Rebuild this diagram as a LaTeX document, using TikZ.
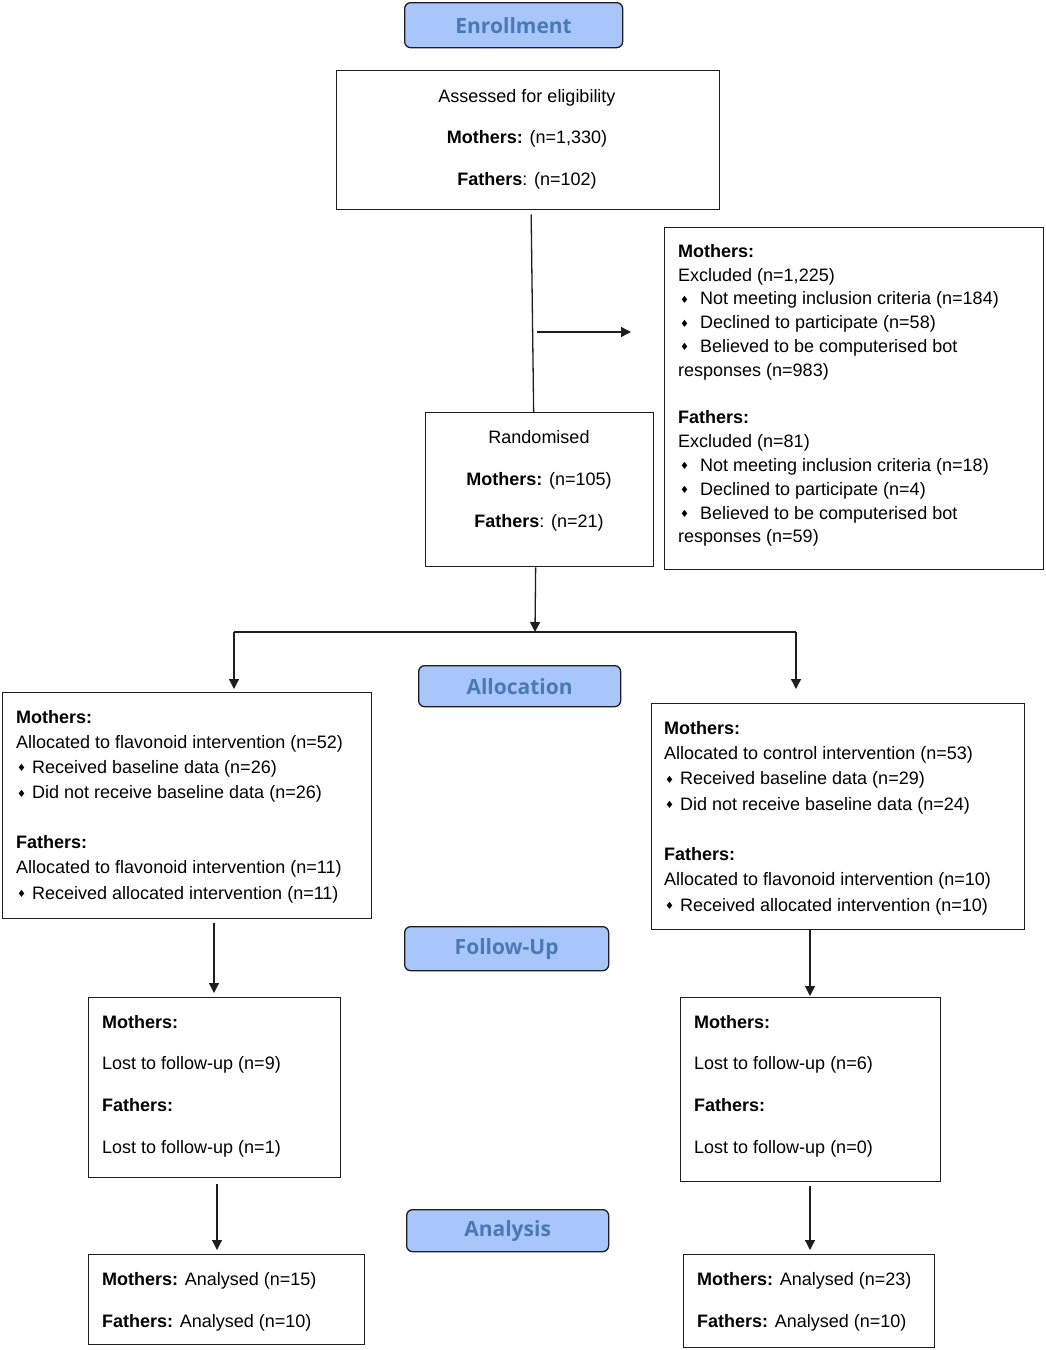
\documentclass[tikz,border=0pt]{standalone}
\usepackage{fontspec}
\setmainfont{Liberation Sans}
\newfontfamily\hdrfont{Open Sans}
\newfontfamily\dejavu{DejaVu Sans}
\usetikzlibrary{arrows.meta}
\definecolor{hdrfill}{RGB}{168,198,250}
\definecolor{hdrtext}{RGB}{74,122,182}
\definecolor{linecol}{RGB}{30,30,30}
\newcommand\bul{\raisebox{1.6pt}{\dejavu\fontsize{10}{10}\selectfont ♦}}
\tikzset{
  box/.style={draw=linecol, line width=1.3pt, inner sep=0pt, anchor=north west},
  hdr/.style={draw=linecol, line width=1.3pt, fill=hdrfill, rounded corners=6pt, inner sep=0pt, anchor=north west,
    font=\hdrfont\bfseries\fontsize{21}{24}\selectfont, text=hdrtext},
  txt/.style={inner sep=0pt, align=left, anchor=west},
  ctxt/.style={inner sep=0pt, align=center, anchor=center},
  conn/.style={draw=linecol, line width=1.3pt},
  arr/.style={conn, -{Triangle[length=10pt,width=10pt]}},
}
\begin{document}
\begin{tikzpicture}[x=1pt,y=-1pt]
\useasboundingbox (0,0) rectangle (1045,1350);
% headers
\node[hdr, minimum width=218pt, minimum height=45pt] (henr) at (404,2) {Enrollment};
\node[hdr, minimum width=202pt, minimum height=41pt] (halloc) at (418,665) {Allocation};
\node[hdr, minimum width=204pt, minimum height=44pt] (hfu) at (404,926) {Follow-Up};
\node[hdr, minimum width=202pt, minimum height=42pt] (hana) at (406,1209) {Analysis};
% boxes
\node[box, minimum width=383pt, minimum height=139pt] (assess) at (336,70) {};
\node[box, minimum width=379pt, minimum height=342pt] (excl) at (664,227) {};
\node[box, minimum width=228pt, minimum height=154pt] (rand) at (425,412) {};
\node[box, minimum width=369pt, minimum height=226pt] (lalloc) at (2,692) {};
\node[box, minimum width=373pt, minimum height=226pt] (ralloc) at (651,703) {};
\node[box, minimum width=252pt, minimum height=180pt] (lfu) at (88,997) {};
\node[box, minimum width=260pt, minimum height=184pt] (rfu) at (680,997) {};
\node[box, minimum width=276pt, minimum height=90pt] (lana) at (88,1254) {};
\node[box, minimum width=251pt, minimum height=93pt] (rana) at (683,1254) {};
% texts
\node[ctxt, font=\fontsize{18}{41.5}\selectfont] (tassess) at (527,139)
  {Assessed for eligibility\\\textbf{Mothers:} (n=1,330)\\\textbf{Fathers}: (n=102)};
\node[ctxt, font=\fontsize{18}{42}\selectfont] (trand) at (539,480.5)
  {Randomised\\\textbf{Mothers:} (n=105)\\\textbf{Fathers}: (n=21)};
\node[txt, font=\fontsize{18}{23.8}\selectfont] (texcl) at (678,395.5)
  {\textbf{Mothers:}\\
   Excluded (n=1,225)\\
   \hspace*{2pt}\bul\hspace{11pt}Not meeting inclusion criteria (n=184)\\
   \hspace*{2pt}\bul\hspace{11pt}Declined to participate (n=58)\\
   \hspace*{2pt}\bul\hspace{11pt}Believed to be computerised bot\\
   responses (n=983)\\[23.8pt]
   \textbf{Fathers:}\\
   Excluded (n=81)\\
   \hspace*{2pt}\bul\hspace{11pt}Not meeting inclusion criteria (n=18)\\
   \hspace*{2pt}\bul\hspace{11pt}Declined to participate (n=4)\\
   \hspace*{2pt}\bul\hspace{11pt}Believed to be computerised bot\\
   responses (n=59)};
\node[txt, font=\fontsize{18}{25.1}\selectfont] (tlalloc) at (16,806.5)
  {\textbf{Mothers:}\\
   Allocated to flavonoid intervention (n=52)\\
   \hspace*{1pt}\bul\hspace{6pt}Received baseline data (n=26)\\
   \hspace*{1pt}\bul\hspace{6pt}Did not receive baseline data (n=26)\\[25.1pt]
   \textbf{Fathers:}\\
   Allocated to flavonoid intervention (n=11)\\
   \hspace*{1pt}\bul\hspace{6pt}Received allocated intervention (n=11)};
\node[txt, font=\fontsize{18}{25.3}\selectfont] (tralloc) at (664,818)
  {\textbf{Mothers:}\\
   Allocated to control intervention (n=53)\\
   \hspace*{1pt}\bul\hspace{6pt}Received baseline data (n=29)\\
   \hspace*{1pt}\bul\hspace{6pt}Did not receive baseline data (n=24)\\[25.3pt]
   \textbf{Fathers:}\\
   Allocated to flavonoid intervention (n=10)\\
   \hspace*{1pt}\bul\hspace{6pt}Received allocated intervention (n=10)};
\node[txt, font=\fontsize{18}{41.7}\selectfont] (tlfu) at (102,1086)
  {\textbf{Mothers:}\\Lost to follow-up (n=9)\\\textbf{Fathers:}\\Lost to follow-up (n=1)};
\node[txt, font=\fontsize{18}{41.7}\selectfont] (trfu) at (694,1086)
  {\textbf{Mothers:}\\Lost to follow-up (n=6)\\\textbf{Fathers:}\\Lost to follow-up (n=0)};
\node[txt, font=\fontsize{18}{42}\selectfont] (tlana) at (102,1301.5)
  {\textbf{Mothers:} Analysed (n=15)\\\textbf{Fathers:} Analysed (n=10)};
\node[txt, font=\fontsize{18}{42}\selectfont] (trana) at (697,1301.5)
  {\textbf{Mothers:} Analysed (n=23)\\\textbf{Fathers:} Analysed (n=10)};
% connectors
\coordinate (hstart) at (537,332);
\coordinate (hend) at (631,332);
\coordinate (split) at (535,632);
\coordinate (jl) at (234,632);
\coordinate (jr) at (796,632);
\draw[conn] ([xshift=3pt,yshift=-4pt]assess.south) -- ([xshift=-6pt]rand.north);
\draw[arr] (hstart) -- (hend);
\draw[arr] ([xshift=-4pt]rand.south) -- (split);
\draw[conn] (jl) -- (jr);
\draw[arr, shorten >=3pt] (jl) -- (jl |- lalloc.north);
\draw[arr, shorten >=14pt] (jr) -- (jr |- ralloc.north);
\draw[arr, shorten <=4pt, shorten >=4pt] (lalloc.south -| 214,0) -- (lfu.north -| 214,0);
\draw[arr, shorten >=1pt] (ralloc.south -| 810,0) -- (rfu.north -| 810,0);
\draw[arr, shorten <=6pt, shorten >=4pt] (lfu.south -| 217,0) -- (lana.north -| 217,0);
\draw[arr, shorten <=4pt, shorten >=4pt] (rfu.south -| 810,0) -- (rana.north -| 810,0);
\end{tikzpicture}
\end{document}
